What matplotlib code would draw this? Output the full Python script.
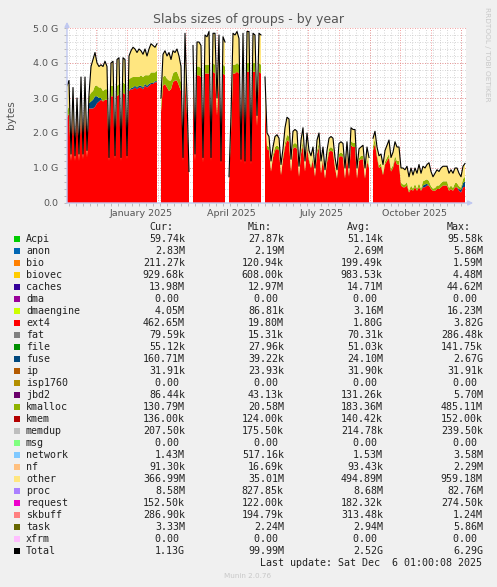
import numpy as np
import matplotlib
matplotlib.use('Agg')
import matplotlib.pyplot as plt
from matplotlib.patches import Rectangle

nan = np.nan

# samples every 2 days starting 2024-11-02, values in G (1e9 bytes)
start = np.datetime64('2024-11-02')
step = 2

ext4 = [
    2.45, 2.55, 1.20, 2.60, 1.20, 2.60, 1.20, 2.65, 1.25, 2.70,
    1.30, 2.70, 2.70, 2.70, 2.75, 2.85, 2.90, 2.95, 2.90, 2.95,
    2.95, 1.20, 3.05, 3.05, 1.25, 3.05, 3.10, 1.20, 3.15, 3.10,
    1.25, 3.20, 3.25, 3.25, 3.30, 3.25, 3.30, 3.30, 3.25, 3.35,
    3.30, 3.35, 3.40, 3.40, 3.45, 3.45, nan, 2.60, 3.35, 3.40,
    3.30, 3.20, 3.25, 3.45, 3.50, 3.50, 3.35, 3.20, 1.20, 3.60,
    2.50, 0.80, nan, 3.60, 1.20, 3.65, 3.65, 3.60, 1.15, 3.70,
    3.70, 3.70, 1.20, 3.75, 3.70, 2.50, 3.70, 1.10, 3.70, 3.65,
    nan, 0.55, 2.00, 3.70, 3.70, 3.75, 3.70, 1.15, 3.75, 1.10,
    3.75, 3.75, 1.10, 3.75, 3.75, 2.20, 3.75, 3.70, nan, 2.90,
    1.55, 1.50, 0.90, 1.30, 1.50, 1.55, 1.50, 0.80, 1.25, 1.60,
    1.80, 1.75, 0.90, 1.55, 1.60, 1.55, 0.75, 1.40, 1.65, 0.90,
    1.60, 1.20, 1.00, 1.25, 0.75, 1.40, 1.60, 0.85, 1.25, 0.70,
    1.15, 1.45, 1.50, 1.45, 1.00, 0.70, 1.30, 1.35, 1.30, 0.70,
    1.35, 0.75, 1.65, 1.60, 1.60, 0.70, 1.20, 1.25, 1.25, 0.70,
    1.20, 1.00, nan, 1.50, 1.70, 1.30, 1.00, 1.05, 0.80, 1.10,
    1.20, 1.30, 0.90, 1.00, 1.25, 1.10, 1.10, 0.50, 0.45, 0.45,
    0.50, 0.30, 0.40, 0.35, 0.45, 0.35, 0.45, 0.35, 0.45, 0.45,
    0.50, 0.50, 0.40, 0.35, 0.35, 0.40, 0.40, 0.45, 0.50, 0.50,
    0.50, 0.35, 0.40, 0.35, 0.45, 0.45, 0.35, 0.30, 0.45, 0.46,
]

fuse = [
    0, 0, 0, 0, 0, 0, 0, 0, 0, 0.05,
    0, 0.15, 0.20, 0.25, 0.30, 0.20, 0.10, 0.05, 0, 0,
    0, 0, 0, 0, 0, 0, 0, 0, 0, 0,
    0, 0.03, 0.03, 0.05, 0.05, 0.05, 0.05, 0.05, 0.05, 0.05,
    0.05, 0.05, 0.03, 0.03, 0.03, 0.03, nan, 0, 0, 0,
    0, 0, 0, 0, 0, 0, 0, 0, 0, 0,
    0, 0, nan, 0, 0, 0, 0, 0, 0, 0,
    0, 0, 0, 0, 0, 0, 0, 0, 0, 0,
    nan, 0, 0, 0, 0, 0, 0, 0, 0, 0,
    0, 0, 0, 0, 0, 0, 0, 0, nan, 0,
    0, 0, 0, 0, 0, 0, 0, 0, 0, 0,
    0, 0, 0, 0, 0, 0, 0, 0, 0, 0,
    0, 0, 0, 0, 0, 0, 0, 0, 0, 0,
    0, 0, 0, 0, 0, 0, 0, 0, 0, 0,
    0, 0, 0, 0, 0, 0, 0, 0, 0, 0,
    0, 0, nan, 0, 0, 0, 0, 0, 0, 0,
    0, 0, 0, 0, 0, 0, 0, 0, 0, 0,
    0, 0, 0, 0, 0, 0, 0, 0, 0.05, 0.08,
    0.05, 0, 0, 0, 0, 0, 0, 0, 0, 0,
    0, 0, 0, 0, 0, 0, 0.05, 0.08, 0.12, 0.16,
]

kmalloc = [
    0.20, 0.20, 0.05, 0.20, 0.05, 0.15, 0.05, 0.20, 0.05, 0.25,
    0.05, 0.20, 0.25, 0.25, 0.30, 0.30, 0.30, 0.30, 0.30, 0.30,
    0.30, 0.05, 0.30, 0.30, 0.05, 0.30, 0.30, 0.05, 0.30, 0.30,
    0.05, 0.30, 0.30, 0.30, 0.25, 0.30, 0.25, 0.30, 0.30, 0.25,
    0.30, 0.25, 0.30, 0.30, 0.25, 0.30, nan, 0.20, 0.25, 0.25,
    0.25, 0.30, 0.25, 0.25, 0.25, 0.25, 0.25, 0.25, 0.05, 0.25,
    0.15, 0.05, nan, 0.25, 0.05, 0.25, 0.25, 0.25, 0.05, 0.25,
    0.25, 0.25, 0.05, 0.25, 0.25, 0.15, 0.25, 0.05, 0.25, 0.25,
    nan, 0.05, 0.15, 0.25, 0.25, 0.25, 0.25, 0.05, 0.25, 0.05,
    0.25, 0.25, 0.05, 0.25, 0.25, 0.15, 0.25, 0.25, nan, 0.20,
    0.10, 0.10, 0.05, 0.08, 0.10, 0.10, 0.10, 0.05, 0.08, 0.12,
    0.15, 0.15, 0.05, 0.12, 0.12, 0.12, 0.05, 0.10, 0.12, 0.05,
    0.12, 0.08, 0.06, 0.08, 0.05, 0.10, 0.12, 0.05, 0.08, 0.05,
    0.08, 0.10, 0.10, 0.10, 0.06, 0.05, 0.10, 0.10, 0.10, 0.05,
    0.10, 0.05, 0.12, 0.12, 0.12, 0.05, 0.08, 0.10, 0.10, 0.05,
    0.08, 0.06, nan, 0.12, 0.15, 0.10, 0.08, 0.08, 0.06, 0.08,
    0.10, 0.10, 0.08, 0.08, 0.10, 0.10, 0.10, 0.08, 0.08, 0.08,
    0.10, 0.05, 0.10, 0.06, 0.10, 0.06, 0.12, 0.06, 0.12, 0.12,
    0.13, 0.13, 0.08, 0.06, 0.08, 0.10, 0.10, 0.12, 0.12, 0.12,
    0.12, 0.08, 0.10, 0.08, 0.12, 0.12, 0.08, 0.06, 0.12, 0.13,
]

total = [
    3.35, 3.50, 1.40, 3.30, 1.35, 3.00, 1.40, 3.60, 1.40, 3.60,
    1.50, 3.10, 3.90, 4.10, 4.30, 4.00, 3.90, 3.95, 3.90, 4.05,
    3.90, 1.30, 4.00, 4.05, 1.35, 4.10, 4.15, 1.30, 4.15, 4.10,
    1.35, 4.20, 4.35, 4.45, 4.40, 4.30, 4.40, 4.35, 4.25, 4.40,
    4.20, 4.40, 4.55, 4.50, 4.45, 4.55, nan, 3.00, 4.25, 4.35,
    4.20, 4.30, 4.10, 4.35, 4.30, 4.40, 4.20, 3.90, 1.30, 4.85,
    3.00, 0.90, nan, 4.50, 1.40, 4.60, 4.60, 4.50, 1.30, 4.80,
    4.75, 4.90, 1.30, 4.85, 4.85, 3.00, 4.80, 1.20, 4.75, 4.60,
    nan, 0.75, 2.50, 4.85, 4.80, 4.90, 4.70, 1.25, 4.85, 1.20,
    4.90, 4.90, 1.20, 4.85, 4.80, 2.50, 4.85, 4.80, nan, 3.60,
    2.00, 1.90, 1.20, 1.60, 1.90, 1.95, 1.85, 1.10, 1.55, 2.15,
    2.45, 2.40, 1.25, 2.05, 2.10, 2.05, 1.05, 1.80, 2.15, 1.20,
    2.00, 1.50, 1.35, 1.60, 1.00, 1.80, 2.00, 1.20, 1.60, 0.95,
    1.50, 1.85, 1.90, 1.85, 1.30, 0.95, 1.70, 1.75, 1.70, 1.00,
    1.75, 1.00, 2.15, 2.10, 2.10, 1.00, 1.55, 1.60, 1.65, 1.00,
    1.60, 1.30, nan, 1.85, 2.05, 1.60, 1.35, 1.40, 1.10, 1.50,
    1.65, 1.80, 1.30, 1.45, 1.75, 1.60, 1.60, 1.00, 1.00, 0.95,
    1.05, 0.75, 1.00, 0.80, 1.00, 0.85, 1.10, 0.85, 1.05, 1.00,
    1.10, 1.15, 0.90, 0.75, 0.85, 0.95, 0.90, 1.00, 1.05, 1.05,
    1.05, 0.85, 0.95, 0.85, 1.00, 1.00, 0.85, 0.75, 1.05, 1.13,
]

# legend table
names = ['Acpi', 'anon', 'bio', 'biovec', 'caches', 'dma', 'dmaengine', 'ext4',
         'fat', 'file', 'fuse', 'ip', 'isp1760', 'jbd2', 'kmalloc', 'kmem',
         'memdup', 'msg', 'network', 'nf', 'other', 'proc', 'request', 'skbuff',
         'task', 'xfrm', 'Total']
colours = ['#00CC00', '#0066B3', '#FF8000', '#FFCC00', '#330099', '#990099',
           '#CCFF00', '#FF0000', '#808080', '#008F00', '#00487D', '#B35A00',
           '#B38F00', '#6B006B', '#8FB300', '#B30000', '#BEBEBE', '#80FF80',
           '#80C9FF', '#FFC080', '#FFE680', '#AA80FF', '#EE00CC', '#FF8080',
           '#666600', '#FFBFFF', '#000000']
cur_vals = [59.74e3, 2.83e6, 211.27e3, 929.68e3, 13.98e6, 0, 4.05e6, 462.65e6,
            79.59e3, 55.12e3, 160.71e6, 31.91e3, 0, 86.44e3, 130.79e6, 136.00e3,
            207.50e3, 0, 1.43e6, 91.30e3, 366.99e6, 8.58e6, 152.50e3, 286.90e3,
            3.33e6, 0, 1.13e9]
min_vals = [27.87e3, 2.19e6, 120.94e3, 608.00e3, 12.97e6, 0, 86.81e3, 19.80e6,
            15.31e3, 27.96e3, 39.22e3, 23.93e3, 0, 43.13e3, 20.58e6, 124.00e3,
            175.50e3, 0, 517.16e3, 16.69e3, 35.01e6, 827.85e3, 122.00e3, 194.79e3,
            2.24e6, 0, 99.99e6]
avg_vals = [51.14e3, 2.69e6, 199.49e3, 983.53e3, 14.71e6, 0, 3.16e6, 1.80e9,
            70.31e3, 51.03e3, 24.10e6, 31.90e3, 0, 131.26e3, 183.36e6, 140.42e3,
            214.78e3, 0, 1.53e6, 93.43e3, 494.89e6, 8.68e6, 182.32e3, 313.48e3,
            2.94e6, 0, 2.52e9]
max_vals = [95.58e3, 5.86e6, 1.59e6, 4.48e6, 44.62e6, 0, 16.23e6, 3.82e9,
            286.48e3, 141.75e3, 2.67e9, 31.91e3, 0, 5.70e6, 485.11e6, 152.00e3,
            239.50e3, 0, 3.58e6, 2.29e6, 959.18e6, 82.76e6, 274.50e3, 1.24e6,
            5.86e6, 0, 6.29e9]

xlabels = ['January 2025', 'April 2025', 'July 2025', 'October 2025']
xlabel_dates = ['2025-01-15', '2025-04-15', '2025-07-15', '2025-10-15']


def si(v):
    for p, s in [(1e9, 'G'), (1e6, 'M'), (1e3, 'k')]:
        if v >= p:
            return '%.2f%s' % (v / p, s)
    return '%.2f ' % v


W, H = 497, 587
fig = plt.figure(figsize=(W / 100, H / 100), dpi=100, facecolor='#F0F0F0')


def fx(x):
    return x / W


def fy(y):
    return 1 - y / H


ax = fig.add_axes([fx(67), fy(203), 399 / W, 175 / H])
ax.set_facecolor('white')

n = len(total)
dates = start + np.arange(n) * np.timedelta64(step, 'D')
x_end = start + np.timedelta64(399, 'D')

e = np.array(ext4, dtype=float)
f = np.array(fuse, dtype=float)
k = np.array(kmalloc, dtype=float)
t = np.array(total, dtype=float)
o = np.clip(t - e - f - k, 0, None)

# grid
weeks = np.arange(np.datetime64('2024-11-04'), x_end, np.timedelta64(7, 'D'))
months = np.arange(np.datetime64('2024-12'), np.datetime64('2026-01'),
                   np.timedelta64(1, 'M')).astype('datetime64[D]')
for d in weeks:
    ax.axvline(d, color='#C8C8C8', lw=0.6, ls=(0, (1, 2)), zorder=0)
for yv in np.arange(0.2, 5.0, 0.2):
    ax.axhline(yv, color='#C8C8C8', lw=0.6, ls=(0, (1, 2)), zorder=0)
for d in months:
    ax.axvline(d, color='#F08080', lw=0.6, ls=(0, (1, 2)), zorder=0.5)
for yv in range(1, 6):
    ax.axhline(yv, color='#F08080', lw=0.6, ls=(0, (1, 2)), zorder=0.5)

# stacked areas
b0 = np.zeros(n)
b1 = e
b2 = b1 + f
b3 = b2 + k
b4 = b3 + o
ax.fill_between(dates, b0, b1, color='#FF0000', lw=0, zorder=2)
ax.fill_between(dates, b1, b2, color='#00487D', lw=0, zorder=2)
ax.fill_between(dates, b2, b3, color='#8FB300', lw=0, zorder=2)
ax.fill_between(dates, b3, b4, color='#FFE680', lw=0, zorder=2)
ax.plot(dates, t, color='black', lw=0.8, zorder=3)

ax.set_xlim(start, x_end)
ax.set_ylim(0, 5.0)
for s in ax.spines.values():
    s.set_visible(False)

ax.set_xticks(np.array(xlabel_dates, dtype='datetime64[D]'), labels=xlabels)
ax.set_xticks(weeks, minor=True)
ax.set_yticks(range(6), labels=['0.0', '1.0 G', '2.0 G', '3.0 G', '4.0 G', '5.0 G'])
ax.set_yticks(np.arange(0.2, 5.0, 0.2), minor=True)
ax.tick_params(axis='x', which='major', length=0, pad=4, labelsize=6.8, labelcolor='#555555')
ax.tick_params(axis='x', which='minor', length=2, color='#B0B0B0', width=0.6)
ax.tick_params(axis='y', which='major', length=2, pad=4, labelsize=6.8,
               labelcolor='#555555', color='#B0B0B0', width=0.6)
ax.tick_params(axis='y', which='minor', length=2, color='#B0B0B0', width=0.6)

# axis arrows
arrow = dict(arrowstyle='-|>', color='#C0C8F0', lw=1.0, mutation_scale=7,
             shrinkA=0, shrinkB=0)
ax.annotate('', xy=(1.018, 0), xytext=(0, 0), xycoords='axes fraction',
            arrowprops=arrow, annotation_clip=False, zorder=5)
ax.annotate('', xy=(0, 1.035), xytext=(0, 0), xycoords='axes fraction',
            arrowprops=arrow, annotation_clip=False, zorder=5)

# titles
fig.text(fx(248.5), fy(19), 'Slabs sizes of groups - by year', ha='center', va='center',
         fontsize=9, color='#555555')
fig.text(fx(11), fy(115), 'bytes', rotation=90, ha='center', va='center',
         fontsize=7.5, color='#555555')
fig.text(fx(487), fy(54), 'RRDTOOL / TOBI OETIKER', rotation=-90, ha='center', va='center',
         fontsize=5.3, color='#C8C8C8')

# legend table
mono = 'DejaVu Sans Mono'
cw = 6.02
col_right = [185, 284, 383, 483]
tcol = '#222222'
for r, hdr in zip(col_right, ['Cur:', 'Min:', 'Avg:', 'Max:']):
    fig.text(fx(r - (len(hdr) + 2) * cw), fy(227), hdr, family=mono, fontsize=7.2,
             color=tcol, ha='left', va='center')

for i, name in enumerate(names):
    y = 239 + 12 * i
    fig.patches.append(Rectangle((fx(14), fy(y + 3)), 6 / W, 6 / H, transform=fig.transFigure,
                                 facecolor=colours[i], edgecolor='none'))
    fig.text(fx(26), fy(y), name, family=mono, fontsize=7.2, color=tcol, ha='left', va='center')
    for r, vals in zip(col_right, [cur_vals, min_vals, avg_vals, max_vals]):
        s = si(vals[i])
        fig.text(fx(r - len(s) * cw), fy(y), s, family=mono, fontsize=7.2, color=tcol,
                 ha='left', va='center')

upd = 'Last update: Sat Dec  6 01:00:08 2025'
fig.text(fx(483 - len(upd) * cw), fy(563), upd, family=mono, fontsize=7.2, color=tcol,
         ha='left', va='center')
fig.text(fx(248), fy(576), 'Munin 2.0.76', ha='center', va='center', fontsize=5.2,
         color='#C8C8C8')

fig.savefig('out.png', dpi=100, facecolor=fig.get_facecolor())
